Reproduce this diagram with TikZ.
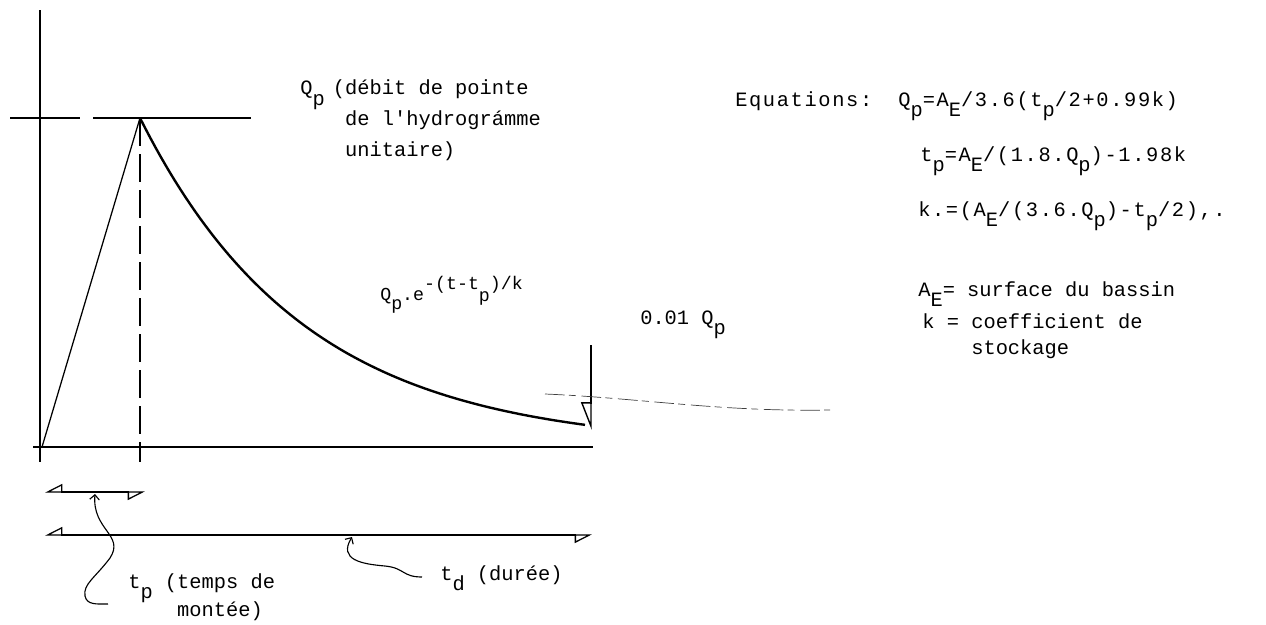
\documentclass[tikz,border=0pt]{standalone}
\usepackage{fontspec}
\usepackage{tikz}
\usetikzlibrary{arrows.meta,positioning}
\newfontfamily\twfamily{Liberation Mono}
\newfontfamily\eqfamily[LetterSpace=8.0]{Liberation Mono}
\newcommand{\twfont}{\twfamily\fontsize{14.5pt}{6.25mm}\selectfont}
\newcommand{\eqfont}{\eqfamily\fontsize{14.5pt}{6.25mm}\selectfont}
\newcommand{\tlow}[1]{\raisebox{-0.5em}{#1}}
\newcommand{\thigh}[1]{\raisebox{0.55em}{#1}}

\tikzset{
  tw/.style={font=\twfont, inner sep=0pt, anchor=base west, align=left},
  eqline/.style={tw, font=\eqfont},
  axisline/.style={line width=1.6pt},
  curveline/.style={line width=1.7pt},
  thinline/.style={line width=0.9pt},
  dimline/.style={line width=0.9pt, {Triangle[open, harpoon, swap, length=4mm, width=4mm]}-{Triangle[open, harpoon, swap, length=4mm, width=4mm]}},
  leader/.style={line width=0.8pt, {Straight Barb[length=1.2mm, width=2.4mm]}-},
}

\begin{document}
\begin{tikzpicture}[x=0.25mm, y=-0.25mm]
  \useasboundingbox (0,0) rectangle (1266,624);

  % axes
  \coordinate (axtop) at (40,10);
  \coordinate (axbot) at (40,462);
  \coordinate (bl) at (33,447);
  \coordinate (br) at (593,447);
  \coordinate (O) at (42,447);
  \coordinate (peak) at (140,118);
  \draw[axisline] (axtop) -- (axbot);
  \draw[line width=2pt] (bl) -- (br);

  % peak level
  \coordinate (pk1) at (10,118);
  \coordinate (pk2) at (80,118);
  \coordinate (pk3) at (93,118);
  \coordinate (pk4) at (251,118);
  \draw[axisline] (pk1) -- (pk2);
  \draw[axisline] (pk3) -- (pk4);
  \coordinate (tpfoot) at (140,462);
  \draw[thinline, dash pattern=on 7mm off 2mm] (peak) -- (tpfoot);

  % hydrogram
  \draw[thinline] (O) -- (peak);
  \draw[curveline] plot[domain=140:585, samples=90] (\x, {447-329*exp(-(\x-140)/165)});

  % 0.01 Qp marker
  \coordinate (endtop) at (591,345);
  \coordinate (endtip) at (591,430);
  \draw[line width=1pt, -{Triangle[open, harpoon, swap, length=6.5mm, width=5mm]}] (endtop) -- (endtip);
  \coordinate (lk1) at (545,394);
  \coordinate (lk2) at (830,410);
  \draw[line width=0.5pt, black!75, dash pattern=on 14pt off 3pt on 5pt off 4pt] (lk1) .. controls (640,398) and (720,412) .. (lk2);

  % durations
  \coordinate (tpa) at (45,492);
  \coordinate (tpb) at (145,492);
  \coordinate (tda) at (45,535);
  \coordinate (tdb) at (592,535);
  \draw[dimline] (tpa) -- (tpb);
  \draw[dimline] (tda) -- (tdb);

  % labels
  \node[tw] (qplab) at (300,156) {Q\tlow{p}\hspace{0.4em}(débit de pointe\\\phantom{Q\tlow{p}\hspace{0.4em}(}de l'hydrográmme\\\phantom{Q\tlow{p}\hspace{0.4em}(}unitaire)};
  \node[tw, font=\twfamily\fontsize{13pt}{6mm}\selectfont] (explab) at (380,300) {Q\tlow{p}.e\thigh{-(t-t}\raisebox{-0.1em}{p}\thigh{)/k}};
  \node[tw] (pclab) at (640,324) {0.01 Q\tlow{p}};

  \node[eqline] (eqA) at (735,106) {Equations:\hspace{6.5mm}Q\tlow{p}=A\tlow{E}/3.6(t\tlow{p}/2+0.99k)};
  \node[eqline] (eqB) at (920,161) {t\tlow{p}=A\tlow{E}/(1.8.Q\tlow{p})-1.98k};
  \node[eqline] (eqC) at (918,216) {k.=(A\tlow{E}/(3.6.Q\tlow{p})-t\tlow{p}/2),.};
  \node[tw] (aelab) at (918,354) {A\tlow{E}= surface du bassin\\[1.75mm]\hspace{0.2em}k = coefficient de\\[0.25mm]\hspace{0.2em}\phantom{k = }stockage};

  \node[tw] (tplab) at (128,616) {t\tlow{p} (temps de\\[-0.75mm]\phantom{t\tlow{p} (}montée)};
  \node[tw] (tdlab) at (440,580) {t\tlow{d} (durée)};

  % leaders
  \coordinate (tph) at (95,494);
  \coordinate (tpe) at (108,604);
  \draw[leader] (tph) .. controls (92,530) and (125,535) .. (110,558)
    .. controls (95,578) and (83,584) .. (85,596) .. controls (87,605) and (96,604) .. (tpe);
  \coordinate (tdh) at (352,537);
  \coordinate (tde) at (422,577);
  \draw[leader] (tdh) .. controls (338,560) and (362,564) .. (385,566)
    .. controls (405,568) and (402,577) .. (tde);
\end{tikzpicture}
\end{document}
